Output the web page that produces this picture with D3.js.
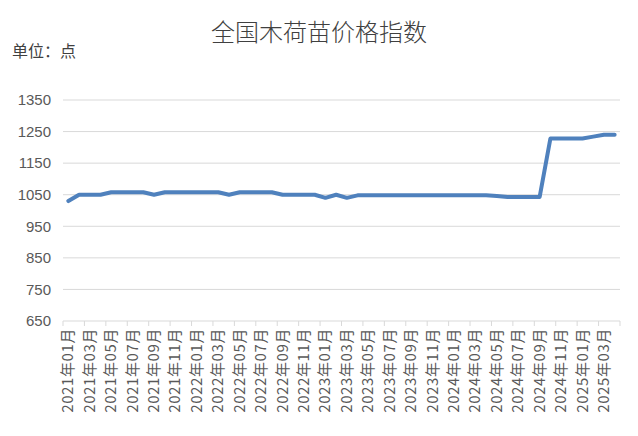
<!DOCTYPE html>
<html><head><meta charset="utf-8">
<script src="https://cdn.jsdelivr.net/npm/d3@7"></script>
<style>body{margin:0;background:#fff;font-family:"Noto Sans CJK SC",sans-serif;}</style>
</head><body><div id="chart"></div>
<script>
// monthly index, 2021-01 .. 2025-04
var months = [];
for (var y = 2021; y <= 2025; y++) for (var m = 1; m <= 12; m++) {
    if (y === 2025 && m > 4) break;
    months.push(y + "年" + (m < 10 ? "0" + m : m) + "月");
}
var values = [1030,1050,1050,1050,1058,1058,1058,1058,1050,1058,1058,1058,
              1058,1058,1058,1050,1058,1058,1058,1058,1050,1050,1050,1050,
              1040,1050,1040,1048,1048,1048,1048,1048,1048,1048,1048,1048,
              1048,1048,1048,1048,1046,1043,1043,1043,1043,1228,1228,1228,
              1228,1234,1240,1240];
var yTicks = [650,750,850,950,1050,1150,1250,1350];

var W = 638, H = 436;
var margin = {top: 100, left: 63, right: 18, bottom: 115};
var svg = d3.select("#chart").append("svg").attr("width", W).attr("height", H);

var x = d3.scaleBand().domain(months).range([margin.left, W - margin.right]);
var yS = d3.scaleLinear().domain([650, 1350]).range([H - margin.bottom, margin.top]);

svg.append("text").attr("x", 319).attr("y", 41).attr("text-anchor", "middle")
    .attr("font-size", 24).attr("font-weight", 300).attr("fill", "#404040").text("全国木荷苗价格指数");
svg.append("text").attr("x", 12).attr("y", 57)
    .attr("font-size", 16).attr("fill", "#404040").text("单位：点");

// gridlines
svg.selectAll(".grid").data(yTicks.slice(1)).enter().append("line")
    .attr("x1", margin.left).attr("x2", W - margin.right)
    .attr("y1", function(d){return yS(d);}).attr("y2", function(d){return yS(d);})
    .attr("stroke", "#d9d9d9").attr("stroke-width", 1);

var yAxis = svg.append("g").attr("transform", "translate(" + margin.left + ",0)")
    .call(d3.axisLeft(yS).tickValues(yTicks).tickFormat(d3.format("d")).tickSize(0).tickPadding(12));
yAxis.select(".domain").remove();
yAxis.selectAll("text").attr("font-size", 15).attr("fill", "#595959")
    .attr("font-family", "Liberation Sans, sans-serif");

// x axis line + ticks every 2 months
var base = yS(650);
svg.append("line").attr("x1", margin.left).attr("x2", W - margin.right)
    .attr("y1", base).attr("y2", base).attr("stroke", "#d9d9d9");
var tickIdx = d3.range(0, months.length + 1, 2);
svg.selectAll(".xt").data(tickIdx).enter().append("line")
    .attr("x1", function(i){return margin.left + i * x.step();})
    .attr("x2", function(i){return margin.left + i * x.step();})
    .attr("y1", base).attr("y2", base + 5).attr("stroke", "#d9d9d9");

svg.selectAll(".xl").data(months.filter(function(d, i){return i % 2 === 0;})).enter()
    .append("text")
    .attr("transform", function(d){
        return "translate(" + (x(d) + x.bandwidth() / 2 + 5) + "," + (base + 7) + ") rotate(-90)";
    })
    .attr("text-anchor", "end").attr("font-size", 15).attr("fill", "#595959")
    .attr("letter-spacing", 0.6)
    .text(function(d){return d;});

var line = d3.line()
    .x(function(d, i){return x(months[i]) + x.bandwidth() / 2;})
    .y(function(d){return yS(d);});
svg.append("path").datum(values).attr("d", line)
    .attr("fill", "none").attr("stroke", "#4f81bd").attr("stroke-width", 4)
    .attr("stroke-linejoin", "round").attr("stroke-linecap", "round");
</script></body></html>
